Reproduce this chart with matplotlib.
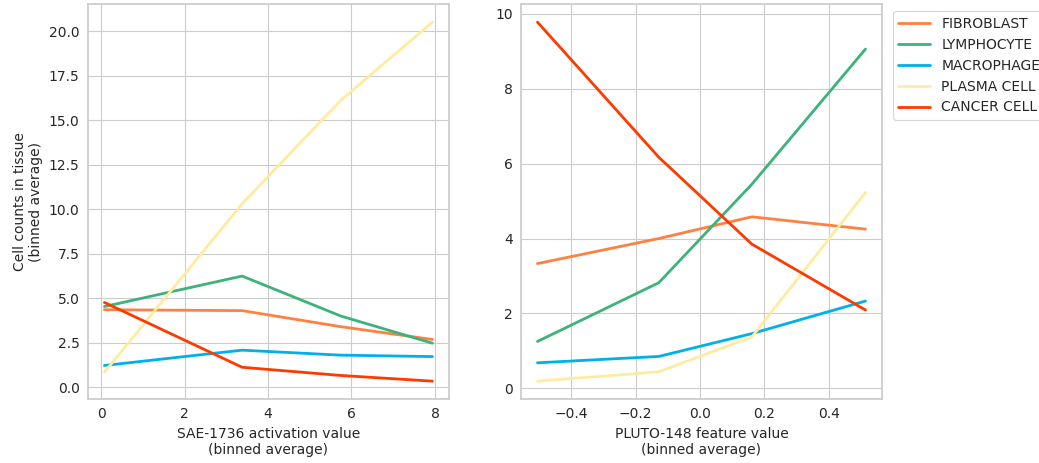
import matplotlib
matplotlib.use("Agg")
import matplotlib.pyplot as plt
import seaborn as sns

sns.set_theme(style="whitegrid", context="paper", font_scale=1.25)
plt.rcParams.update({
    "font.size": 10, "axes.labelsize": 10, "xtick.labelsize": 10,
    "ytick.labelsize": 10, "legend.fontsize": 10,
})

cell_types = ["FIBROBLAST", "LYMPHOCYTE", "MACROPHAGE", "PLASMA CELL", "CANCER CELL"]
colors = ["#FF8040", "#3CB37A", "#00B0E8", "#FFEBA0", "#FF3A00"]

# Left panel: SAE-1736 activation value (binned average)
sae_x = [0.08, 3.38, 5.74, 7.94]
sae_fibroblast = [4.35, 4.30, 3.40, 2.68]
sae_lymphocyte = [4.53, 6.24, 4.00, 2.47]
sae_macrophage = [1.22, 2.08, 1.80, 1.72]
sae_plasma = [0.84, 10.3, 16.1, 20.5]
sae_cancer = [4.76, 1.12, 0.66, 0.34]

# Right panel: PLUTO-148 feature value (binned average)
pluto_x = [-0.505, -0.128, 0.161, 0.514]
pluto_fibroblast = [3.33, 4.00, 4.58, 4.25]
pluto_lymphocyte = [1.25, 2.82, 5.45, 9.06]
pluto_macrophage = [0.68, 0.85, 1.46, 2.33]
pluto_plasma = [0.19, 0.44, 1.37, 5.23]
pluto_cancer = [9.78, 6.17, 3.85, 2.09]

left_series = [sae_fibroblast, sae_lymphocyte, sae_macrophage, sae_plasma, sae_cancer]
right_series = [pluto_fibroblast, pluto_lymphocyte, pluto_macrophage, pluto_plasma, pluto_cancer]

fig = plt.figure(figsize=(10.39, 4.63), dpi=100)
ax1 = fig.add_axes([0.0847, 0.138, 0.3473, 0.853])
ax2 = fig.add_axes([0.5015, 0.138, 0.3473, 0.853])

for name, c, ys in zip(cell_types, colors, left_series):
    ax1.plot(sae_x, ys, color=c, lw=2, label=name)
for name, c, ys in zip(cell_types, colors, right_series):
    ax2.plot(pluto_x, ys, color=c, lw=2, label=name)

ax1.set_xlabel("SAE-1736 activation value\n(binned average)")
ax1.set_ylabel("Cell counts in tissue\n(binned average)")
ax2.set_xlabel("PLUTO-148 feature value\n(binned average)")

ax1.set_xticks([0, 2, 4, 6, 8])
ax1.set_yticks([0, 2.5, 5, 7.5, 10, 12.5, 15, 17.5, 20])
ax2.set_xticks([-0.4, -0.2, 0.0, 0.2, 0.4])
ax2.set_yticks([0, 2, 4, 6, 8, 10])

for ax in (ax1, ax2):
    ax.tick_params(axis="both", which="both", length=0, pad=6)
    for s in ax.spines.values():
        s.set_color("#CCCCCC")
        s.set_linewidth(1.25)

ax2.legend(loc="upper left", bbox_to_anchor=(1.011, 1.0), frameon=True,
           handlelength=2.3)

fig.savefig("out.png", dpi=100)
